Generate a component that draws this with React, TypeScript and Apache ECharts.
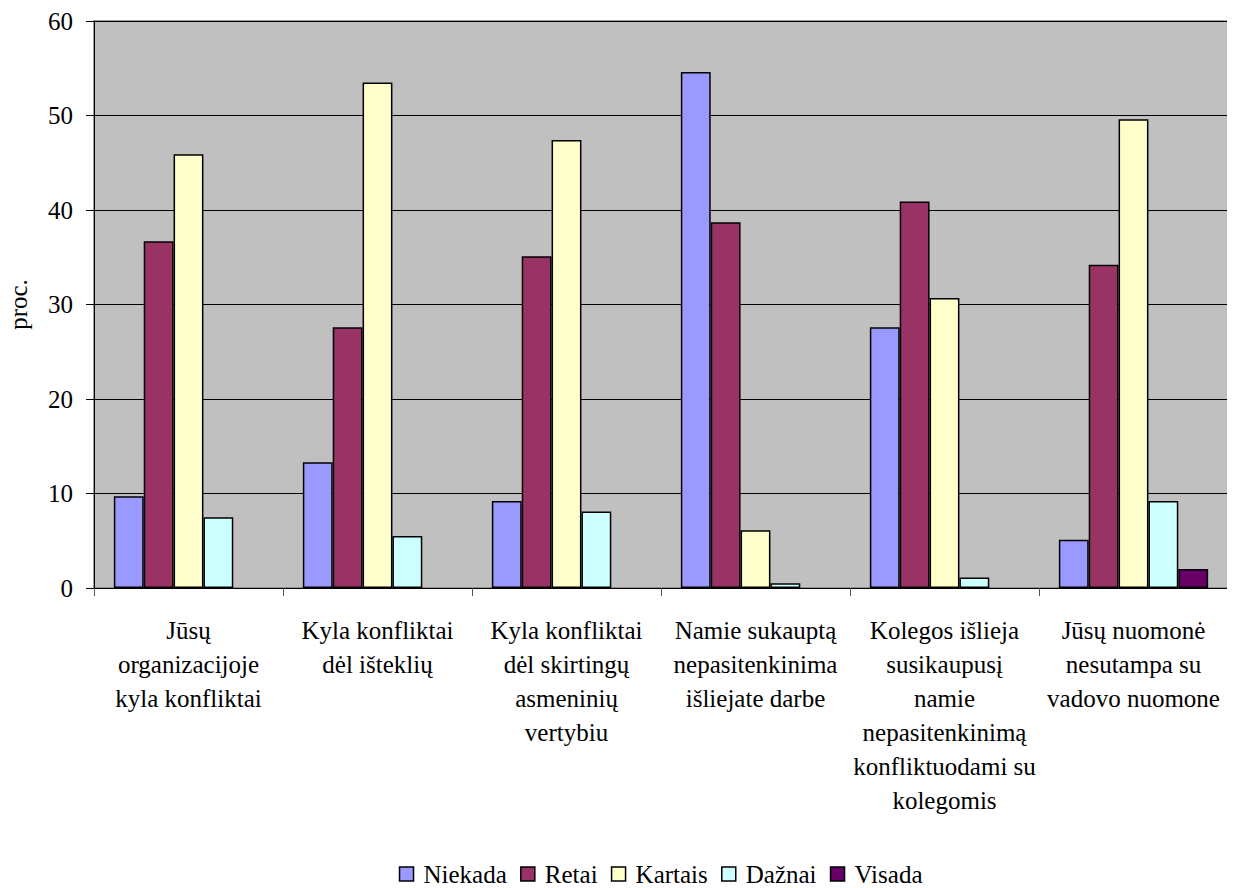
import React, { useEffect, useRef } from "react";
import * as echarts from "echarts";

const categories = [
  "Jūsų\norganizacijoje\nkyla konfliktai",
  "Kyla konfliktai\ndėl išteklių",
  "Kyla konfliktai\ndėl skirtingų\nasmeninių\nvertybiu",
  "Namie sukauptą\nnepasitenkinima\nišliejate darbe",
  "Kolegos išlieja\nsusikaupusį\nnamie\nnepasitenkinimą\nkonfliktuodami su\nkolegomis",
  "Jūsų nuomonė\nnesutampa su\nvadovo nuomone",
];

const niekada = [9.7, 13.3, 9.2, 54.6, 27.6, 5.1];
const retai = [36.7, 27.6, 35.1, 38.7, 40.9, 34.2];
const kartais = [45.9, 53.5, 47.4, 6.1, 30.7, 49.6];
const daznai = [7.5, 5.5, 8.1, 0.5, 1.1, 9.2];
const visada = [0, 0, 0, 0, 0, 2.0];

const seriesNames = ["Niekada", "Retai", "Kartais", "Dažnai", "Visada"];
const seriesColors = ["#9999FF", "#993366", "#FFFFCC", "#CCFFFF", "#660066"];
const yTickLabels = [0, 10, 20, 30, 40, 50, 60];
const yAxisTitle = "proc.";

const FONT = "Liberation Serif";
const FS = 25;

export default function App() {
  const ref = useRef<HTMLDivElement>(null);
  useEffect(() => {
    if (!ref.current) return;
    const chart = echarts.init(ref.current, null, { renderer: "svg" });
    const dataSets = [niekada, retai, kartais, daznai, visada];
    const yMin = yTickLabels[0];
    const yMax = yTickLabels[yTickLabels.length - 1];
    const yInterval = yTickLabels[1] - yTickLabels[0];
    const gridLeft = 94;
    const gridTop = 21;
    const gridRight = 7;
    const gridBottom = 300;
    chart.setOption({
      animation: false,
      textStyle: { fontFamily: FONT, color: "#000" },
      grid: {
        left: gridLeft,
        right: gridRight,
        top: gridTop,
        bottom: gridBottom,
        show: true,
        backgroundColor: "#C0C0C0",
        borderColor: "#808080",
        borderWidth: 1.5,
      },
      legend: { show: false, data: seriesNames },
      xAxis: {
        type: "category",
        data: categories,
        axisLine: { show: true, lineStyle: { color: "#000", width: 1 } },
        axisTick: { show: true, length: 8, lineStyle: { color: "#555" } },
        axisLabel: { show: false },
      },
      yAxis: {
        type: "value",
        min: yMin,
        max: yMax,
        interval: yInterval,
        axisLine: { show: true, lineStyle: { color: "#000", width: 1 } },
        axisTick: { show: true, inside: false, length: 8, lineStyle: { color: "#000" } },
        axisLabel: { show: false },
        splitLine: { show: true, lineStyle: { color: "#000", width: 1 } },
      },
      series: dataSets.map((d, i) => ({
        name: seriesNames[i],
        type: "bar",
        data: d.map((v) => (v === 0 ? null : v)),
        barGap: "0%",
        barCategoryGap: "21%",
        itemStyle: { color: seriesColors[i], borderColor: "#000", borderWidth: 1.5 },
      })),
    });

    const W = chart.getWidth();
    const axisY = chart.convertToPixel({ yAxisIndex: 0 }, yMin) as number;
    const topY = chart.convertToPixel({ yAxisIndex: 0 }, yMax) as number;
    const graphics: any[] = [];

    // x category labels
    categories.forEach((c, i) => {
      const x = chart.convertToPixel({ xAxisIndex: 0 }, i) as number;
      graphics.push({
        type: "text",
        x,
        y: axisY + 25,
        silent: true,
        style: {
          text: c,
          fontFamily: FONT,
          fontSize: FS,
          lineHeight: 34,
          fill: "#000",
          align: "center",
          verticalAlign: "top",
        },
      });
    });

    // y tick labels
    yTickLabels.forEach((v) => {
      const y = chart.convertToPixel({ yAxisIndex: 0 }, v) as number;
      graphics.push({
        type: "text",
        x: gridLeft - 21,
        y,
        silent: true,
        style: {
          text: String(v),
          fontFamily: FONT,
          fontSize: FS,
          fill: "#000",
          align: "right",
          verticalAlign: "middle",
        },
      });
    });

    // y axis title
    graphics.push({
      type: "text",
      x: 18,
      y: (axisY + topY) / 2,
      rotation: Math.PI / 2,
      silent: true,
      style: {
        text: yAxisTitle,
        fontFamily: FONT,
        fontSize: FS,
        fill: "#000",
        align: "center",
        verticalAlign: "middle",
      },
    });

    // legend
    const cv = document.createElement("canvas").getContext("2d")!;
    cv.font = `${FS}px "${FONT}"`;
    const icon = 14;
    const iconGap = 10;
    const itemGap = 14;
    const widths = seriesNames.map((n) => cv.measureText(n).width);
    const total =
      widths.reduce((a, b) => a + b, 0) +
      seriesNames.length * (icon + iconGap) +
      (seriesNames.length - 1) * itemGap;
    const plotCenter = (gridLeft + (W - gridRight)) / 2;
    let lx = plotCenter - total / 2;
    const ly = 874;
    seriesNames.forEach((n, i) => {
      graphics.push({
        type: "rect",
        silent: true,
        shape: { x: lx, y: ly - icon / 2, width: icon, height: icon },
        style: { fill: seriesColors[i], stroke: "#000", lineWidth: 1.5 },
      });
      graphics.push({
        type: "text",
        x: lx + icon + iconGap,
        y: ly,
        silent: true,
        style: {
          text: n,
          fontFamily: FONT,
          fontSize: FS,
          fill: "#000",
          align: "left",
          verticalAlign: "middle",
        },
      });
      lx += icon + iconGap + widths[i] + itemGap;
    });

    chart.setOption({ graphic: graphics });
    return () => chart.dispose();
  }, []);
  return <div ref={ref} style={{ width: 1235, height: 888, marginLeft: -8, marginTop: -8 }} />;
}
